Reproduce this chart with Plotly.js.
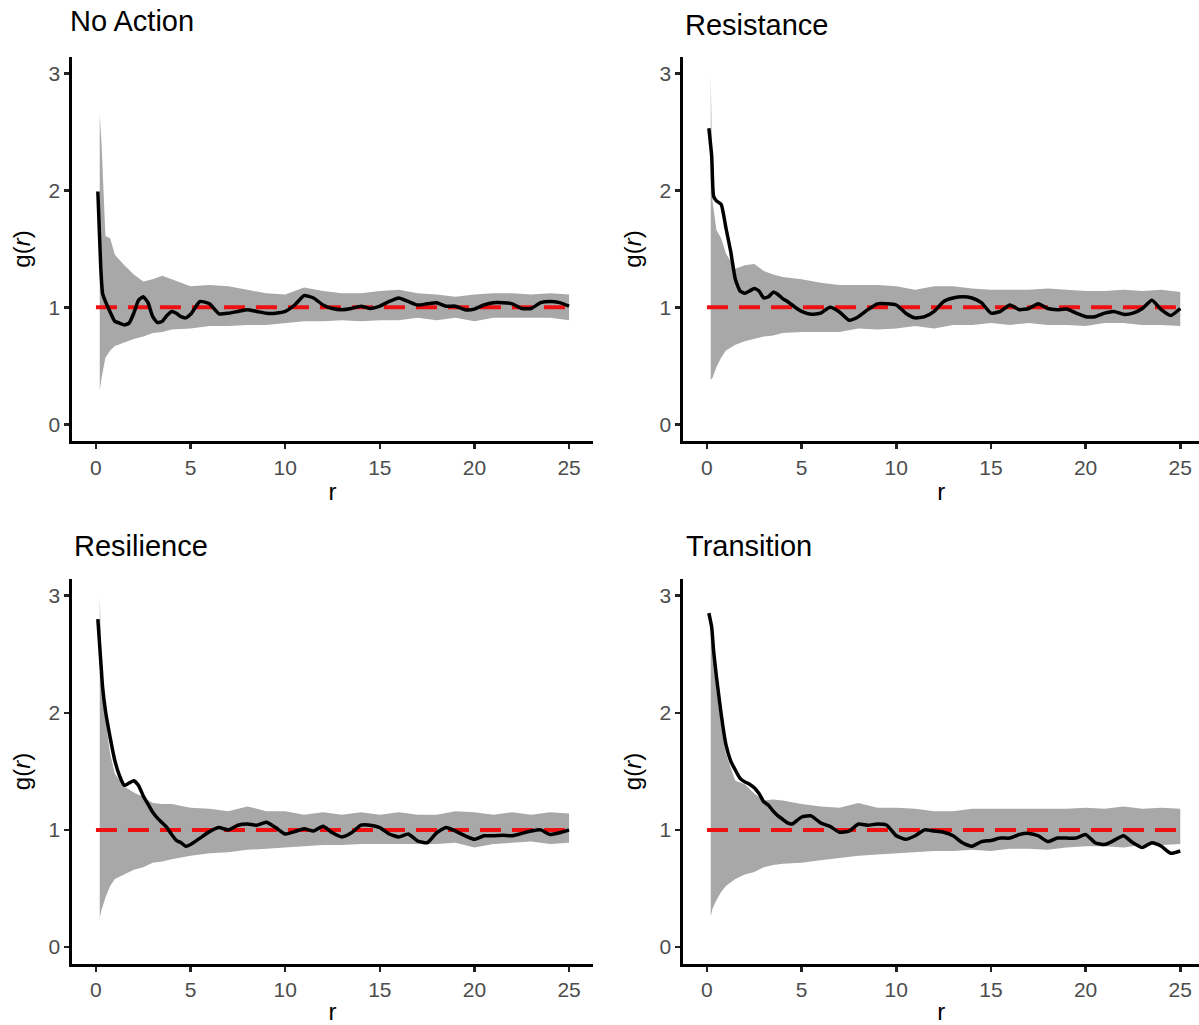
<!DOCTYPE html>
<html>
<head>
<meta charset="utf-8">
<script src="https://cdn.plot.ly/plotly-3.0.1.min.js"></script>
<style>html,body{margin:0;padding:0;background:#fff;}#chart{width:1199px;height:1025px;}</style>
</head>
<body>
<div id="chart"></div>
<script>
// ---------- data ----------
const panelTitles = ["No Action", "Resistance", "Resilience", "Transition"];
const xTicks = [0, 5, 10, 15, 20, 25];
const yTicks = [0, 1, 2, 3];
const theoR = [0, 25];
const theoG = [1, 1];

// envelope grid
const bandR = [0.2, 0.3, 0.5, 0.75, 1, 1.5, 2, 2.5, 3, 3.5, 4,
  5, 6, 7, 8, 9, 10, 11, 12, 13, 14, 15, 16, 17, 18, 19, 20, 21, 22, 23, 24, 25];
// observed curve grid
const curveR = [0.1, 0.25, 0.35, 0.5, 0.75, 1, 1.25, 1.5, 1.75, 2, 2.25, 2.5, 2.75, 3, 3.25, 3.5, 3.75, 4, 4.25, 4.5, 4.75, 5,
  5.5, 6, 6.5, 7, 7.5, 8, 8.5, 9, 9.5, 10, 10.5, 11, 11.5, 12, 12.5, 13, 13.5, 14, 14.5, 15,
  15.5, 16, 16.5, 17, 17.5, 18, 18.5, 19, 19.5, 20, 20.5, 21, 21.5, 22, 22.5, 23, 23.5, 24, 24.5, 25];

const noActionHi = [2.65, 2.38, 1.61, 1.59, 1.45, 1.36, 1.28, 1.22, 1.24, 1.27, 1.24,
  1.18, 1.19, 1.18, 1.15, 1.12, 1.11, 1.17, 1.14, 1.12, 1.12, 1.14, 1.15, 1.12, 1.11, 1.09, 1.11, 1.12, 1.12, 1.11, 1.12, 1.11];
const noActionLo = [0.29, 0.40, 0.57, 0.63, 0.67, 0.70, 0.73, 0.75, 0.78, 0.79, 0.81,
  0.82, 0.84, 0.84, 0.85, 0.85, 0.865, 0.88, 0.88, 0.89, 0.88, 0.89, 0.89, 0.91, 0.89, 0.91, 0.88, 0.91, 0.91, 0.91, 0.91, 0.89];
const noActionObs = [1.99, 1.35, 1.12, 1.05, 0.96, 0.88, 0.865, 0.85, 0.865, 0.95, 1.06, 1.09, 1.04, 0.92, 0.87, 0.88, 0.93, 0.965, 0.95, 0.92, 0.91, 0.94,
  1.05, 1.03, 0.945, 0.95, 0.965, 0.98, 0.965, 0.95, 0.95, 0.965, 1.02, 1.10, 1.08, 1.02, 0.99, 0.98, 0.99, 1.01, 0.99, 1.01,
  1.05, 1.08, 1.05, 1.02, 1.03, 1.04, 1.01, 1.01, 0.98, 0.985, 1.02, 1.04, 1.04, 1.03, 0.99, 0.99, 1.04, 1.05, 1.04, 1.01];

const resistanceHi = [2.99, 1.90, 1.66, 1.59, 1.46, 1.33, 1.36, 1.37, 1.31, 1.28, 1.26,
  1.24, 1.21, 1.19, 1.19, 1.19, 1.18, 1.15, 1.18, 1.18, 1.16, 1.15, 1.15, 1.15, 1.16, 1.15, 1.14, 1.14, 1.15, 1.14, 1.15, 1.13];
const resistanceLo = [0.38, 0.40, 0.49, 0.57, 0.63, 0.68, 0.71, 0.73, 0.75, 0.76, 0.78,
  0.79, 0.79, 0.79, 0.82, 0.81, 0.82, 0.84, 0.82, 0.85, 0.85, 0.865, 0.85, 0.865, 0.85, 0.85, 0.84, 0.865, 0.865, 0.85, 0.85, 0.84];
const resistanceObs = [2.53, 2.29, 1.95, 1.91, 1.88, 1.68, 1.48, 1.24, 1.14, 1.12, 1.14, 1.16, 1.14, 1.08, 1.09, 1.13, 1.11, 1.075, 1.05, 1.02, 0.99, 0.965,
  0.94, 0.95, 1.0, 0.96, 0.89, 0.92, 0.98, 1.03, 1.03, 1.02, 0.95, 0.91, 0.92, 0.965, 1.05, 1.08, 1.09, 1.08, 1.04, 0.95,
  0.965, 1.02, 0.98, 0.99, 1.03, 0.99, 0.98, 0.985, 0.95, 0.92, 0.92, 0.95, 0.965, 0.94, 0.95, 0.99, 1.06, 0.98, 0.93, 0.99];

const resilienceHi = [2.99, 2.40, 1.95, 1.65, 1.48, 1.37, 1.32, 1.28, 1.23, 1.22, 1.22,
  1.19, 1.18, 1.16, 1.20, 1.16, 1.16, 1.13, 1.15, 1.13, 1.15, 1.13, 1.15, 1.13, 1.13, 1.16, 1.15, 1.13, 1.15, 1.13, 1.15, 1.14];
const resilienceLo = [0.25, 0.32, 0.42, 0.52, 0.58, 0.62, 0.66, 0.68, 0.72, 0.73, 0.75,
  0.78, 0.80, 0.81, 0.83, 0.84, 0.85, 0.86, 0.87, 0.87, 0.88, 0.88, 0.88, 0.88, 0.88, 0.89, 0.85, 0.88, 0.89, 0.90, 0.88, 0.89];
const resilienceObs = [2.80, 2.45, 2.22, 2.02, 1.79, 1.59, 1.46, 1.38, 1.40, 1.42, 1.38, 1.29, 1.22, 1.15, 1.10, 1.06, 1.02, 0.96, 0.91, 0.89, 0.86, 0.875,
  0.93, 0.985, 1.02, 1.0, 1.04, 1.05, 1.04, 1.065, 1.02, 0.965, 0.985, 1.01, 0.99, 1.03, 0.975, 0.94, 0.975, 1.04, 1.04, 1.02,
  0.965, 0.94, 0.965, 0.905, 0.89, 0.975, 1.02, 0.99, 0.95, 0.92, 0.95, 0.95, 0.955, 0.95, 0.97, 0.99, 1.0, 0.96, 0.975, 1.0];

const transitionHi = [2.85, 2.60, 2.20, 1.90, 1.65, 1.42, 1.39, 1.31, 1.25, 1.26, 1.25,
  1.22, 1.20, 1.19, 1.23, 1.19, 1.19, 1.18, 1.16, 1.16, 1.18, 1.18, 1.18, 1.18, 1.18, 1.18, 1.19, 1.18, 1.20, 1.18, 1.19, 1.18];
const transitionLo = [0.26, 0.33, 0.40, 0.47, 0.52, 0.58, 0.62, 0.64, 0.68, 0.70, 0.71,
  0.72, 0.74, 0.76, 0.78, 0.79, 0.80, 0.81, 0.82, 0.82, 0.83, 0.82, 0.84, 0.84, 0.83, 0.85, 0.86, 0.86, 0.85, 0.87, 0.87, 0.88];
const transitionObs = [2.85, 2.73, 2.53, 2.31, 1.99, 1.73, 1.59, 1.51, 1.44, 1.41, 1.39, 1.36, 1.31, 1.24, 1.21, 1.16, 1.12, 1.09, 1.06, 1.05, 1.08, 1.11,
  1.12, 1.06, 1.03, 0.98, 0.99, 1.05, 1.04, 1.05, 1.04, 0.95, 0.92, 0.95, 1.0, 0.99, 0.98, 0.95, 0.89, 0.86, 0.90, 0.91,
  0.93, 0.93, 0.96, 0.97, 0.95, 0.90, 0.93, 0.93, 0.93, 0.96, 0.89, 0.875, 0.91, 0.95, 0.89, 0.85, 0.89, 0.86, 0.80, 0.82];

// ---------- build ----------
const panels = [
  {lo: noActionLo, hi: noActionHi, obs: noActionObs},
  {lo: resistanceLo, hi: resistanceHi, obs: resistanceObs},
  {lo: resilienceLo, hi: resilienceHi, obs: resilienceObs},
  {lo: transitionLo, hi: transitionHi, obs: transitionObs}
];

const W = 1199, H = 1025;
const xDomPx = [[72.3, 592.7], [683.3, 1199], [72.3, 592.7], [683.3, 1199]];
const yDomPx = [[56.7, 441.3], [56.7, 441.3], [579, 964], [579, 964]];
const xRanges = [[-1.25, 26.25], [-1.25, 25.99], [-1.25, 26.25], [-1.25, 25.99]];
const yRange = [-0.145, 3.142];
const titlePos = [[68, 21], [683, 25], [72, 546], [684, 546]];

const traces = [];
const layout = {
  width: W, height: H,
  margin: {l: 0, r: 0, t: 0, b: 0},
  paper_bgcolor: '#ffffff', plot_bgcolor: '#ffffff',
  showlegend: false,
  font: {family: 'Liberation Sans, Arial, sans-serif'},
  annotations: []
};

panels.forEach((p, i) => {
  const n = i + 1;
  const xa = n === 1 ? 'x' : 'x' + n;
  const ya = n === 1 ? 'y' : 'y' + n;
  traces.push({x: bandR, y: p.lo, xaxis: xa, yaxis: ya, type: 'scatter', mode: 'lines',
    line: {width: 0, color: '#a8a8a8'}, hoverinfo: 'skip'});
  traces.push({x: bandR, y: p.hi, xaxis: xa, yaxis: ya, type: 'scatter', mode: 'lines',
    fill: 'tonexty', fillcolor: '#a8a8a8', line: {width: 0, color: '#a8a8a8'}, hoverinfo: 'skip'});
  traces.push({x: theoR, y: theoG, xaxis: xa, yaxis: ya, type: 'scatter', mode: 'lines',
    line: {color: '#ee1111', width: 4, dash: '21px,11px'}});
  traces.push({x: curveR, y: p.obs, xaxis: xa, yaxis: ya, type: 'scatter', mode: 'lines',
    line: {color: '#000000', width: 3.5, shape: 'spline', smoothing: 0.5}});

  const axBase = {
    showgrid: false, zeroline: false, showline: true, linecolor: '#000000', linewidth: 3,
    ticks: 'outside', ticklen: 5, tickwidth: 2.5, tickcolor: '#222222',
    tickfont: {size: 21, color: '#4d4d4d', family: 'Liberation Sans, Arial, sans-serif'},
    automargin: false, fixedrange: true
  };
  layout['xaxis' + (n === 1 ? '' : n)] = Object.assign({}, axBase, {
    domain: [xDomPx[i][0] / W, xDomPx[i][1] / W],
    range: xRanges[i], tickmode: 'array', tickvals: xTicks, ticktext: xTicks.map(String),
    anchor: ya,
    title: {text: 'r', font: {size: 24, color: '#000000'}, standoff: 6}
  });
  layout['yaxis' + (n === 1 ? '' : n)] = Object.assign({}, axBase, {
    domain: [1 - yDomPx[i][1] / H, 1 - yDomPx[i][0] / H],
    range: yRange, tickmode: 'array', tickvals: yTicks, ticktext: yTicks.map(String),
    anchor: xa,
    title: {text: 'g(<i>r</i>)', font: {size: 24, color: '#000000'}, standoff: 12}
  });
  layout.annotations.push({
    text: panelTitles[i], xref: 'paper', yref: 'paper',
    x: titlePos[i][0] / W, y: 1 - titlePos[i][1] / H,
    xanchor: 'left', yanchor: 'middle', showarrow: false,
    font: {size: 29, color: '#000000', family: 'Liberation Sans, Arial, sans-serif'}
  });
});

Plotly.newPlot('chart', traces, layout, {displayModeBar: false, staticPlot: true});
</script>
</body>
</html>
